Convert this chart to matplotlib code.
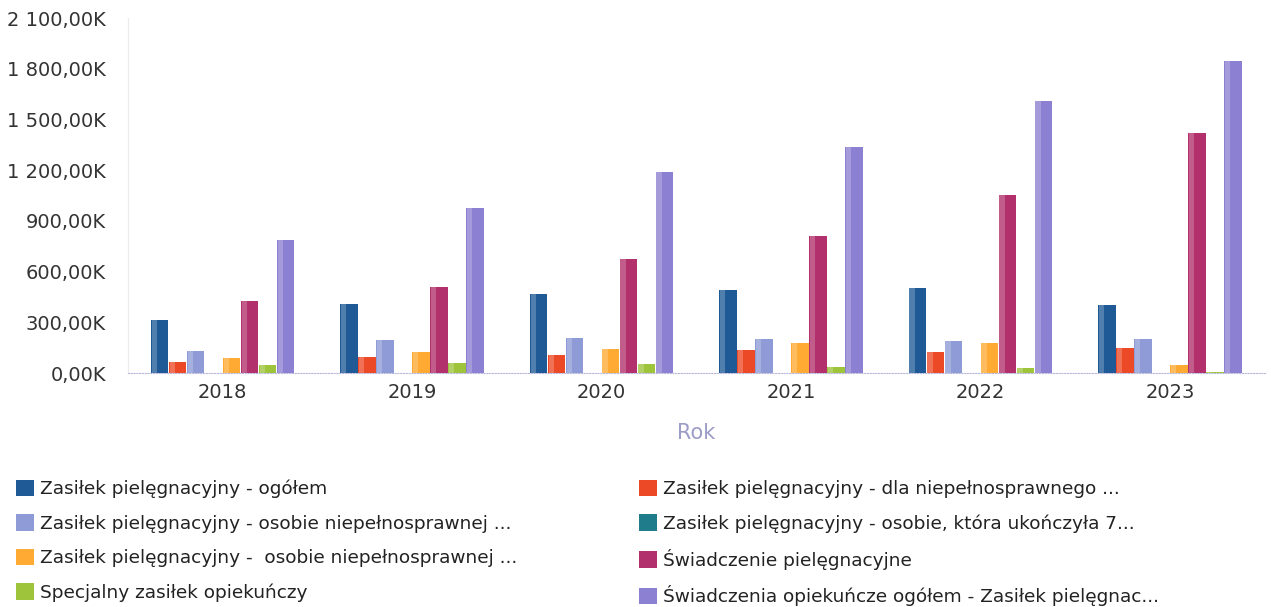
import numpy as np
import matplotlib
matplotlib.use("Agg")
import matplotlib.pyplot as plt
from matplotlib.patches import Patch
from matplotlib.ticker import FuncFormatter

plt.rcParams['font.family'] = ['DejaVu Sans']

# values in thousands (K)
years = ['2018', '2019', '2020', '2021', '2022', '2023']
series_names = [
    'Zasiłek pielęgnacyjny - ogółem',
    'Zasiłek pielęgnacyjny - dla niepełnosprawnego ...',
    'Zasiłek pielęgnacyjny - osobie niepełnosprawnej ...',
    'Zasiłek pielęgnacyjny - osobie, która ukończyła 7...',
    'Zasiłek pielęgnacyjny -  osobie niepełnosprawnej ...',
    'Świadczenie pielęgnacyjne',
    'Specjalny zasiłek opiekuńczy',
    'Świadczenia opiekuńcze ogółem - Zasiłek pielęgnac...',
]
ogolem = [314, 408, 465, 491, 503, 400]
dla_niepeln = [65, 95, 107, 136, 122, 148]
osobie_niepeln = [130, 195, 207, 201, 187, 203]
osobie_75 = [0, 0, 0, 0, 0, 0]
osobie_niepeln_16 = [89, 124, 142, 178, 178, 49]
swiadczenie = [426, 509, 675, 811, 1056, 1421]
specjalny = [47, 59, 53, 36, 28, 8]
swiadczenia_ogolem = [787, 977, 1190, 1338, 1612, 1845]

series = [ogolem, dla_niepeln, osobie_niepeln, osobie_75,
          osobie_niepeln_16, swiadczenie, specjalny, swiadczenia_ogolem]
colors = ['#1f5a96', '#ec4a26', '#8e9bd6', '#1f7c8a',
          '#ffaa33', '#b2306b', '#9dc43a', '#8c80d2']

fig = plt.figure(figsize=(12.71, 6.07), dpi=100)
ax = fig.add_axes([0.1007, 0.3855, 0.8943, 0.5848])

x = np.arange(len(years))
n = len(series)
group_w = 0.76
bw = group_w / n
for i, (vals, c) in enumerate(zip(series, colors)):
    pos = x - group_w / 2 + bw * (i + 0.5)
    ax.bar(pos, vals, width=bw * 0.97, color=c, edgecolor='none', zorder=3)
    # lighter left edge, like the shaded bars of the original
    ax.bar(pos - bw * 0.3, vals, width=bw * 0.3, color='white', alpha=0.22,
           edgecolor='none', zorder=4)

ax.set_xlim(-0.5, len(years) - 0.5)
ax.set_ylim(0, 2100)
ax.set_yticks(np.arange(0, 2101, 300))
ax.yaxis.set_major_formatter(FuncFormatter(
    lambda v, p: '{:,.2f}K'.format(v).replace(',', ' ').replace('.', ',')))
ax.set_xticks(x)
ax.set_xticklabels(years)
ax.tick_params(axis='both', length=0, labelsize=14, colors='#333333')
ax.tick_params(axis='y', pad=16)
ax.tick_params(axis='x', pad=7)

for s in ['top', 'right']:
    ax.spines[s].set_visible(False)
ax.spines['left'].set_color('#ececec')
ax.spines['bottom'].set_color('#b8b8dc')
ax.spines['bottom'].set_linestyle((0, (1, 1.5)))
ax.spines['bottom'].set_linewidth(0.8)

ax.set_xlabel('Rok', fontsize=15, color='#9c9cc8', labelpad=15)

handles = [Patch(facecolor=c, edgecolor='none') for c in colors]
left_idx = [0, 2, 4, 6]
right_idx = [1, 3, 5, 7]
leg_kw = dict(frameon=False, fontsize=13.3, handlelength=0.95, handleheight=1.0,
              handletextpad=0.35, labelspacing=0.86, labelcolor='#222222',
              borderaxespad=0)
leg1 = fig.legend([handles[i] for i in left_idx], [series_names[i] for i in left_idx],
                  loc='upper left', bbox_to_anchor=(0.007, 0.222), **leg_kw)
leg2 = fig.legend([handles[i] for i in right_idx], [series_names[i] for i in right_idx],
                  loc='upper left', bbox_to_anchor=(0.497, 0.222), **leg_kw)

fig.savefig('out.png', dpi=100)
